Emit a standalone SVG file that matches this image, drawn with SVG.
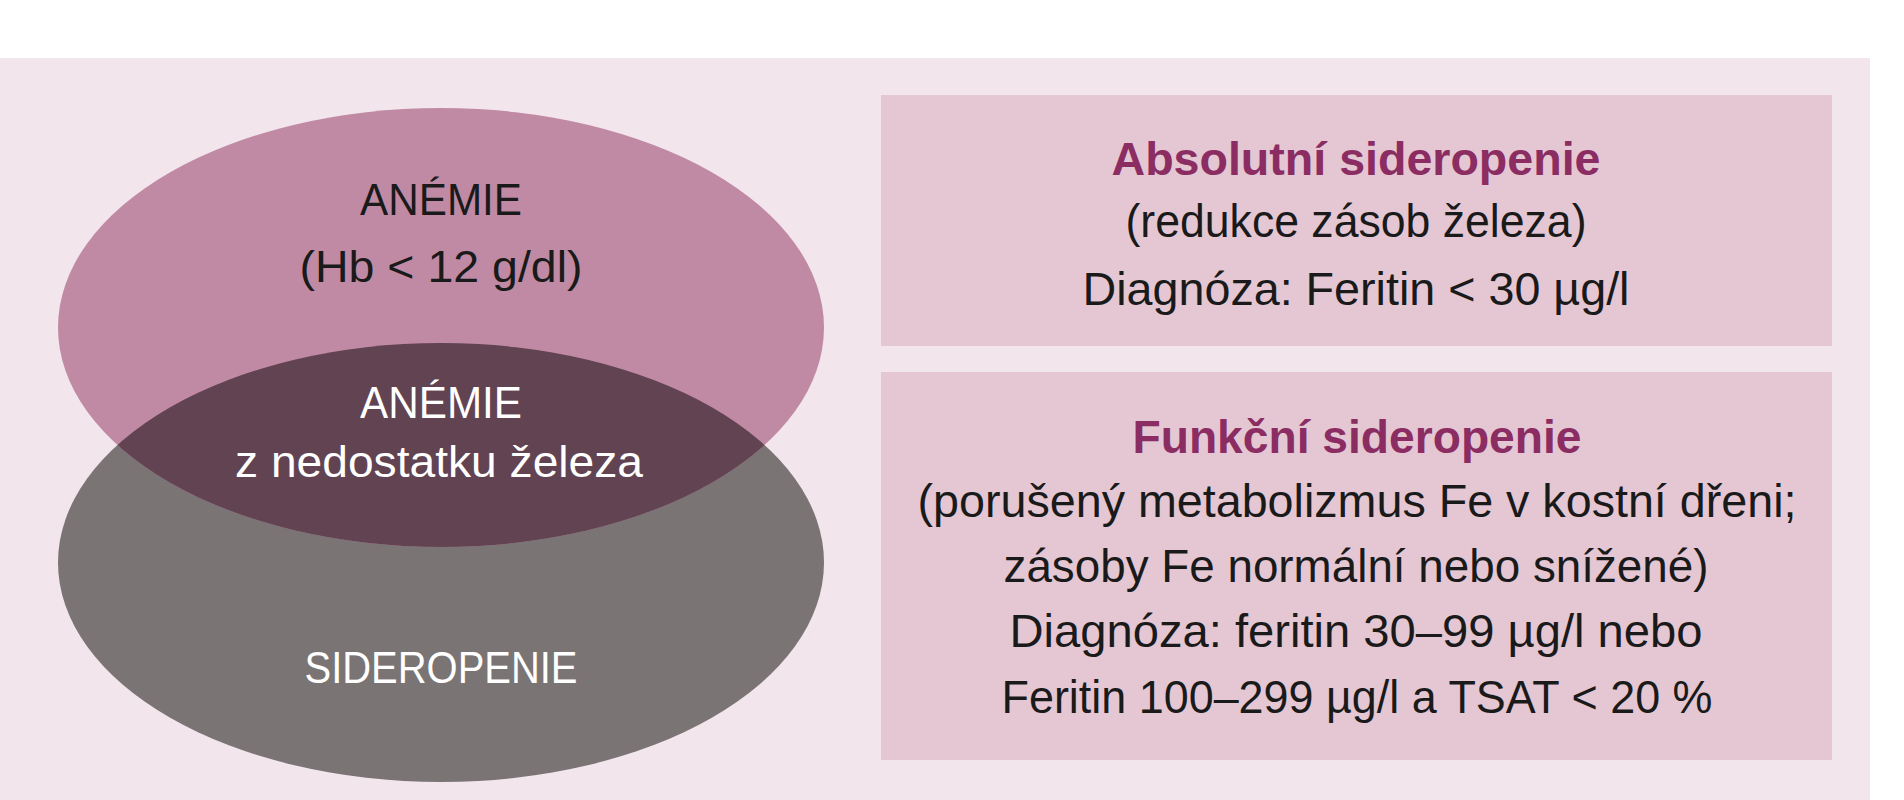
<svg xmlns="http://www.w3.org/2000/svg" width="1904" height="800" viewBox="0 0 1904 800">
<style>
  .t{font-family:"Liberation Sans",Arial,sans-serif;text-anchor:middle}
  .l{font-size:44px}
  .r{font-size:46px;fill:#1a1a1a}
  .h{font-size:46px;font-weight:bold;fill:#8b2d62}
  .dark{fill:#1a1a1a}
  .w{fill:#ffffff}
  .box{fill:#e4c7d3}
</style>
<defs>
  <clipPath id="clipTop"><ellipse cx="441" cy="327.5" rx="383" ry="219.5"/></clipPath>
</defs>
<rect x="0" y="0" width="1904" height="800" fill="#ffffff"/>
<rect id="panel" x="0" y="58" width="1870" height="742" fill="#f2e6ec"/>
<g id="sideropenie">
  <ellipse cx="441" cy="562.5" rx="383" ry="219.5" fill="#7a7475"/>
  <text class="t l w" x="441" y="683" textLength="273" lengthAdjust="spacingAndGlyphs">SIDEROPENIE</text>
</g>
<g id="anemie">
  <ellipse cx="441" cy="327.5" rx="383" ry="219.5" fill="#c08aa5"/>
  <text class="t l dark" x="441" y="215" textLength="162" lengthAdjust="spacingAndGlyphs">ANÉMIE</text>
  <text class="t l dark" x="441" y="282" textLength="283" lengthAdjust="spacingAndGlyphs">(Hb &lt; 12 g/dl)</text>
</g>
<g id="anemie-sideropenie">
  <ellipse cx="441" cy="562.5" rx="383" ry="219.5" fill="#614352" clip-path="url(#clipTop)"/>
  <text class="t l w" x="441" y="418" textLength="162" lengthAdjust="spacingAndGlyphs">ANÉMIE</text>
  <text class="t l w" x="439" y="477" textLength="408" lengthAdjust="spacingAndGlyphs">z nedostatku železa</text>
</g>
<g id="absolutni">
  <rect class="box" x="881" y="95" width="951" height="251"/>
  <text class="t h" x="1356" y="175" textLength="489" lengthAdjust="spacingAndGlyphs">Absolutní sideropenie</text>
  <text class="t r" x="1356" y="237" textLength="461" lengthAdjust="spacingAndGlyphs">(redukce zásob železa)</text>
  <text class="t r" x="1356" y="305" textLength="547" lengthAdjust="spacingAndGlyphs">Diagnóza: Feritin &lt; 30 µg/l</text>
</g>
<g id="funkcni">
  <rect class="box" x="881" y="372" width="951" height="388"/>
  <text class="t h" x="1357" y="453" textLength="449" lengthAdjust="spacingAndGlyphs">Funkční sideropenie</text>
  <text class="t r" x="1357" y="517" textLength="879" lengthAdjust="spacingAndGlyphs">(porušený metabolizmus Fe v kostní dřeni;</text>
  <text class="t r" x="1356" y="582" textLength="705" lengthAdjust="spacingAndGlyphs">zásoby Fe normální nebo snížené)</text>
  <text class="t r" x="1356" y="647" textLength="693" lengthAdjust="spacingAndGlyphs">Diagnóza: feritin 30–99 µg/l nebo</text>
  <text class="t r" x="1357" y="713" textLength="711" lengthAdjust="spacingAndGlyphs">Feritin 100–299 µg/l a TSAT &lt; 20 %</text>
</g>
<g id="connectors"></g>
</svg>
